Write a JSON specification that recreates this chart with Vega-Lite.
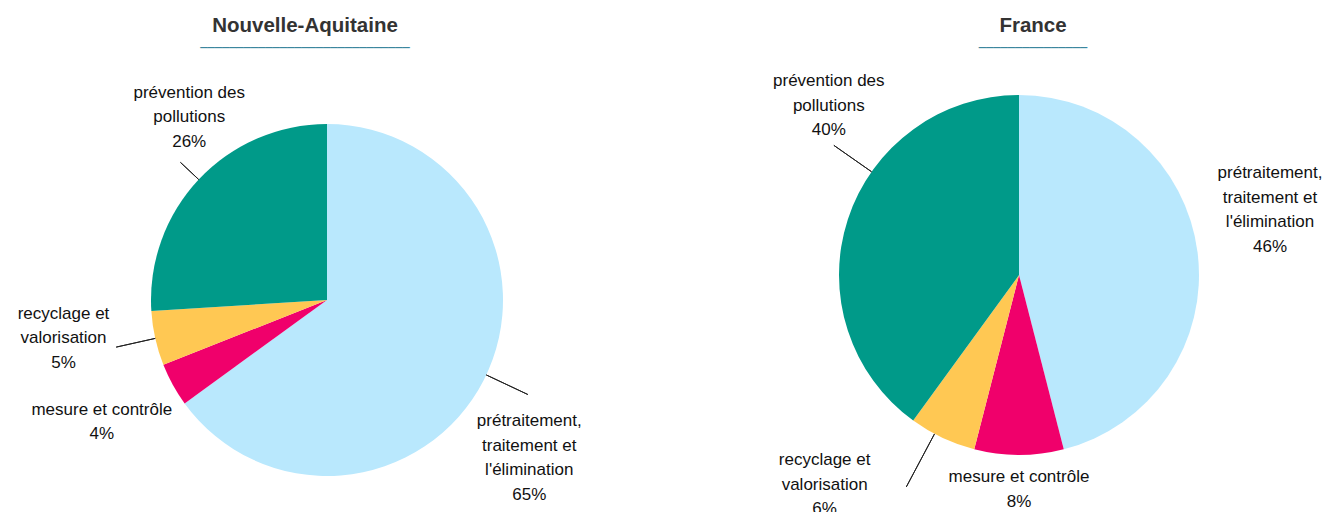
{
  "$schema": "https://vega.github.io/schema/vega-lite/v6.json",
  "background": "white",
  "padding": {"top": 15, "left": 0, "right": 0, "bottom": 0},
  "spacing": 49,
  "config": {
    "view": {"stroke": null},
    "title": {"font": "Liberation Sans", "fontSize": 20.5, "fontWeight": "bold", "color": "#333333", "anchor": "middle", "subtitleFont": "DejaVu Sans Mono", "subtitleFontSize": 12, "subtitleColor": "#1F7A94", "subtitlePadding": 7},
    "text": {"font": "Liberation Sans", "fontSize": 17, "color": "#111111", "lineBreak": "\n", "lineHeight": 24.5, "align": "center", "baseline": "middle"},
    "arc": {"stroke": null}
  },
  "datasets": {
    "NA": [
      {"categorie": "prétraitement, traitement et l'élimination", "ordre": 1, "part": 65, "etiquette": "prétraitement,\ntraitement et\nl'élimination\n65%"},
      {"categorie": "mesure et contrôle", "ordre": 2, "part": 4, "etiquette": "mesure et contrôle\n4%"},
      {"categorie": "recyclage et valorisation", "ordre": 3, "part": 5, "etiquette": "recyclage et\nvalorisation\n5%"},
      {"categorie": "prévention des pollutions", "ordre": 4, "part": 26, "etiquette": "prévention des\npollutions\n26%"}
    ],
    "FR": [
      {"categorie": "prétraitement, traitement et l'élimination", "ordre": 1, "part": 46, "etiquette": "prétraitement,\ntraitement et\nl'élimination\n46%"},
      {"categorie": "mesure et contrôle", "ordre": 2, "part": 8, "etiquette": "mesure et contrôle\n8%"},
      {"categorie": "recyclage et valorisation", "ordre": 3, "part": 6, "etiquette": "recyclage et\nvalorisation\n6%"},
      {"categorie": "prévention des pollutions", "ordre": 4, "part": 40, "etiquette": "prévention des\npollutions\n40%"}
    ]
  },
  "hconcat": [
    {
      "width": 654,
      "height": 400,
      "data": {"name": "NA"},
      "title": {"text": "Nouvelle-Aquitaine", "subtitle": "─────────────────────────────", "dx": -22, "offset": 7},
      "layer": [
        {
          "mark": {"type": "arc", "outerRadius": 176},
          "encoding": {
            "theta": {"field": "part", "type": "quantitative", "stack": true},
            "order": {"field": "ordre", "type": "quantitative"},
            "color": {"field": "categorie", "type": "nominal", "legend": null,
              "scale": {"domain": ["prétraitement, traitement et l'élimination", "mesure et contrôle", "recyclage et valorisation", "prévention des pollutions"], "range": ["#B9E8FD", "#F0006B", "#FFC853", "#009A89"]}}
          }
        },
        {
          "mark": {"type": "arc", "innerRadius": 176, "outerRadius": 201, "padAngle": 3, "filled": false, "stroke": "#222222", "strokeWidth": 1},
          "encoding": {
            "theta": {"field": "part", "type": "quantitative", "stack": true},
            "order": {"field": "ordre", "type": "quantitative"},
            "strokeOpacity": {"condition": {"test": "datum.categorie === 'prévention des pollutions'", "value": 1}, "value": 0}
          }
        },
        {
          "mark": {"type": "arc", "innerRadius": 176, "outerRadius": 216, "padAngle": 3, "filled": false, "stroke": "#222222", "strokeWidth": 1},
          "encoding": {
            "theta": {"field": "part", "type": "quantitative", "stack": true},
            "order": {"field": "ordre", "type": "quantitative"},
            "strokeOpacity": {"condition": {"test": "datum.categorie === 'recyclage et valorisation'", "value": 1}, "value": 0}
          }
        },
        {
          "transform": [{"filter": "datum.ordre === 1"}],
          "mark": {"type": "arc", "theta": 2.0106, "theta2": 2.0106, "innerRadius": 176, "outerRadius": 222, "filled": false, "stroke": "#222222", "strokeWidth": 1},
          "encoding": {}
        },
        {
          "mark": {"type": "text", "radius": 227, "baseline": "top", "dy": 10},
          "encoding": {
            "theta": {"field": "part", "type": "quantitative", "stack": true},
            "order": {"field": "ordre", "type": "quantitative"},
            "text": {"condition": {"test": "datum.ordre === 1", "field": "etiquette", "type": "nominal"}, "value": ""}
          }
        },
        {
          "mark": {"type": "text", "radius": 257, "dy": -14},
          "encoding": {
            "theta": {"field": "part", "type": "quantitative", "stack": true},
            "order": {"field": "ordre", "type": "quantitative"},
            "text": {"condition": {"test": "datum.ordre === 2", "field": "etiquette", "type": "nominal"}, "value": ""}
          }
        },
        {
          "mark": {"type": "text", "radius": 270, "dy": -45},
          "encoding": {
            "theta": {"field": "part", "type": "quantitative", "stack": true},
            "order": {"field": "ordre", "type": "quantitative"},
            "text": {"condition": {"test": "datum.ordre === 3", "field": "etiquette", "type": "nominal"}, "value": ""}
          }
        },
        {
          "mark": {"type": "text", "radius": 189, "dy": -78},
          "encoding": {
            "theta": {"field": "part", "type": "quantitative", "stack": true},
            "order": {"field": "ordre", "type": "quantitative"},
            "text": {"condition": {"test": "datum.ordre === 4", "field": "etiquette", "type": "nominal"}, "value": ""}
          }
        }
      ]
    },
    {
      "width": 620,
      "height": 350,
      "data": {"name": "FR"},
      "title": {"text": "France", "subtitle": "───────────────", "dx": 14, "offset": 18},
      "layer": [
        {
          "mark": {"type": "arc", "outerRadius": 180},
          "encoding": {
            "theta": {"field": "part", "type": "quantitative", "stack": true},
            "order": {"field": "ordre", "type": "quantitative"},
            "color": {"field": "categorie", "type": "nominal", "legend": null,
              "scale": {"domain": ["prétraitement, traitement et l'élimination", "mesure et contrôle", "recyclage et valorisation", "prévention des pollutions"], "range": ["#B9E8FD", "#F0006B", "#FFC853", "#009A89"]}}
          }
        },
        {
          "transform": [{"filter": "datum.ordre === 4"}],
          "mark": {"type": "arc", "theta": 5.3233, "theta2": 5.3233, "innerRadius": 180, "outerRadius": 226, "filled": false, "stroke": "#222222", "strokeWidth": 1},
          "encoding": {}
        },
        {
          "transform": [{"filter": "datum.ordre === 3"}],
          "mark": {"type": "arc", "theta": 3.6303, "theta2": 3.6303, "innerRadius": 180, "outerRadius": 240, "filled": false, "stroke": "#222222", "strokeWidth": 1},
          "encoding": {}
        },
        {
          "mark": {"type": "text", "radius": 253, "dy": -70},
          "encoding": {
            "theta": {"field": "part", "type": "quantitative", "stack": true},
            "order": {"field": "ordre", "type": "quantitative"},
            "text": {"condition": {"test": "datum.ordre === 1", "field": "etiquette", "type": "nominal"}, "value": ""}
          }
        },
        {
          "mark": {"type": "text", "radius": 214, "dy": -12},
          "encoding": {
            "theta": {"field": "part", "type": "quantitative", "stack": true},
            "order": {"field": "ordre", "type": "quantitative"},
            "text": {"condition": {"test": "datum.ordre === 2", "field": "etiquette", "type": "nominal"}, "value": ""}
          }
        },
        {
          "mark": {"type": "text", "radius": 231, "dx": -96, "dy": -24},
          "encoding": {
            "theta": {"field": "part", "type": "quantitative", "stack": true},
            "order": {"field": "ordre", "type": "quantitative"},
            "text": {"condition": {"test": "datum.ordre === 3", "field": "etiquette", "type": "nominal"}, "value": ""}
          }
        },
        {
          "mark": {"type": "text", "radius": 200, "dy": -132},
          "encoding": {
            "theta": {"field": "part", "type": "quantitative", "stack": true},
            "order": {"field": "ordre", "type": "quantitative"},
            "text": {"condition": {"test": "datum.ordre === 4", "field": "etiquette", "type": "nominal"}, "value": ""}
          }
        }
      ]
    }
  ]
}
